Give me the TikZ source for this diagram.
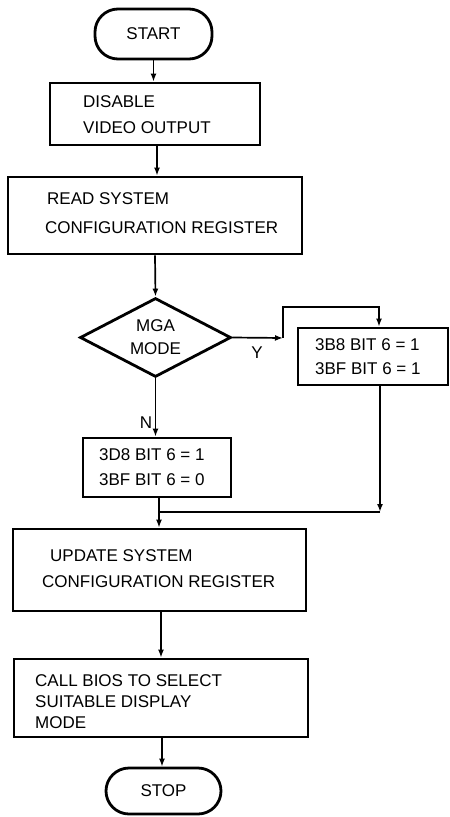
\documentclass[tikz,border=0pt]{standalone}
\usepackage{fontspec}
\setmainfont{Liberation Sans}
\usetikzlibrary{arrows.meta, shapes.geometric}

\begin{document}
\begin{tikzpicture} [x = 1pt, y = -1pt,
  box/.style = {draw, black, line width = 2.8pt, inner sep = 0pt},
  term/.style = {box, rounded corners = 23pt, font = \fontsize{17}{20}\selectfont},
  dec/.style = {box, diamond, aspect = 2, align = center, font = \fontsize{17}{23}\selectfont},
  txt/.style = {right, inner sep = 0pt, align = left, font = \fontsize{17}{26}\selectfont},
  lbl/.style = {inner sep = 0pt, font = \fontsize{17}{20}\selectfont},
  arr/.style = {-{Latex[length = 8pt, width = 6pt]}, line width = 1.7pt},
  wire/.style = {line width = 1.7pt}]
\useasboundingbox (0, 0) rectangle (450, 817);
\node[term, minimum width = 117, minimum height = 50] (start) at (153.5, 34){START};
\node[box, minimum width = 210, minimum height = 62] (disable) at (155, 114){};
\node[txt] (disablet) at (83, 115){DISABLE\\VIDEO OUTPUT};
\node[box, minimum width = 294, minimum height = 77] (read) at (155, 215.5){};
\node[txt, font = \fontsize{17}{29}\selectfont] (readt) at (45, 213.5){\hspace*{2pt}READ SYSTEM\\CONFIGURATION REGISTER};
\node[dec, minimum width = 151, minimum height = 79] (mga) at (155.5, 337.5){MGA\\MODE};
\node[box, minimum width = 150, minimum height = 57] (b8) at (373, 356.5){};
\node[txt, font = \fontsize{17}{24}\selectfont] (b8t) at (315, 357){3B8 BIT 6 = 1\\3BF BIT 6 = 1};
\node[box, minimum width = 148, minimum height = 59] (d8) at (157, 467.5){};
\node[txt, font = \fontsize{17}{25}\selectfont] (d8t) at (99, 467.5){3D8 BIT 6 = 1\\3BF BIT 6 = 0};
\node[box, minimum width = 293, minimum height = 82] (update) at (159.5, 570){};
\node[txt] (updatet) at (42, 569){\hspace*{8pt}UPDATE SYSTEM\\CONFIGURATION REGISTER};
\node[box, minimum width = 294, minimum height = 78] (call) at (161, 698){};
\node[txt, font = \fontsize{17}{21}\selectfont] (callt) at (35, 702){CALL BIOS TO SELECT\\SUITABLE DISPLAY\\MODE};
\node[term, minimum width = 115, minimum height = 46] (stop) at (163.5, 791){STOP};
\node[lbl] (ylab) at (257, 353){Y};
\node[lbl] (nlab) at (146, 423){N};
\coordinate (ybend) at (283, 338);
\coordinate (ytop) at (283, 307);
\coordinate (jr) at (380, 512);
\coordinate (jl) at (159, 512);
\draw[arr] (start.south) -- (start.south |- disable.north);
\draw[arr] ([xshift = 2pt]disable.south) -- ([xshift = 2pt]disable.south |- read.north);
\draw[arr] (read.south) -- (mga.north);
\draw[arr] (mga.east) -- (ybend);
\draw[arr] (ybend) -- (ytop) -| ([xshift = 6pt]b8.north);
\draw[arr] (mga.south) -- (mga.south |- d8.north);
\draw[arr] ([xshift = 7pt]b8.south) -- (jr);
\draw[wire] (jr) -- (jl);
\draw[arr] ([xshift = 2pt]d8.south) -- ([xshift = 2pt]d8.south |- update.north);
\draw[arr] ([xshift = 1.5pt]update.south) -- ([xshift = 1.5pt]update.south |- call.north);
\draw[arr] ([xshift = 1pt]call.south) -- ([xshift = 1pt]call.south |- stop.north);
\end{tikzpicture}
\end{document}
